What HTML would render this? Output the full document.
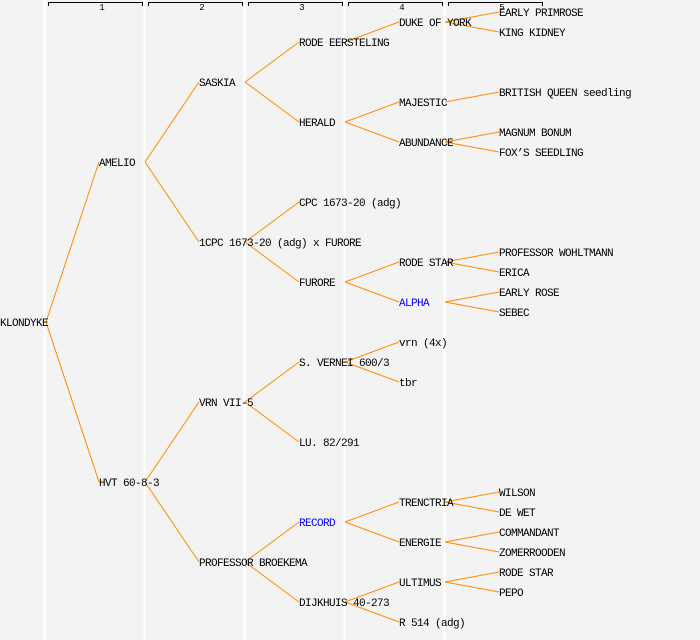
<!DOCTYPE html>
<html><head><meta charset="utf-8"><style>
html,body{margin:0;padding:0;background:#f3f3f3;}
svg{display:block;}
text{font-family:"Liberation Mono","DejaVu Sans Mono",monospace;font-size:11px;letter-spacing:-0.6px;fill:#000;}
</style></head><body>
<svg width="700" height="640" viewBox="0 0 700 640" xmlns="http://www.w3.org/2000/svg">
<rect width="700" height="640" fill="#f3f3f3"/>
<g stroke="#fff" stroke-width="2">
<line x1="44.5" y1="0" x2="44.5" y2="640"/><line x1="144.5" y1="0" x2="144.5" y2="640"/>
<line x1="244.5" y1="0" x2="244.5" y2="640"/><line x1="344.5" y1="0" x2="344.5" y2="640"/>
<line x1="444.5" y1="0" x2="444.5" y2="640"/>
</g>
<g stroke="#000" stroke-width="1" fill="none">
<path d="M48.5 6V2.5H142.5V6"/><path d="M148.5 6V2.5H242.5V6"/><path d="M248.5 6V2.5H342.5V6"/>
<path d="M348.5 6V2.5H442.5V6"/><path d="M448.5 6V2.5H542.5V6"/>
</g>
<g text-anchor="middle">
<text x="102" y="10" style="font-size:9px;letter-spacing:0">1</text><text x="202" y="10" style="font-size:9px;letter-spacing:0">2</text>
<text x="302" y="10" style="font-size:9px;letter-spacing:0">3</text><text x="402" y="10" style="font-size:9px;letter-spacing:0">4</text>
<text x="502" y="10" style="font-size:9px;letter-spacing:0">5</text>
</g>
<g stroke="#ff8c00" stroke-width="1" fill="none">
<path d="M46 322L99 162M46 322L99 482"/>
<path d="M145 162L199 82M145 162L199 242M145 482L199 402M145 482L199 562"/>
<path d="M245 82L299 42M245 82L299 122M245 242L299 202M245 242L299 282M245 402L299 362M245 402L299 442M245 562L299 522M245 562L299 602"/>
<path d="M345 42L399 22M345 122L399 102M345 122L399 142M345 282L399 262M345 282L399 302M345 362L399 342M345 362L399 382M345 522L399 502M345 522L399 542M345 602L399 582M345 602L399 622"/>
<path d="M445 22L499 12M445 22L499 32M445 102L499 92M445 142L499 132M445 142L499 152M445 262L499 252M445 262L499 272M445 302L499 292M445 302L499 312M445 502L499 492M445 502L499 512M445 542L499 532M445 542L499 552M445 582L499 572M445 582L499 592"/>
</g>
<g>
<text x="0" y="326">KLONDYKE</text>
<text x="99" y="166">AMELIO</text><text x="99" y="486">HVT 60-8-3</text>
<text x="199" y="86">SASKIA</text><text x="199" y="246">1CPC 1673-20 (adg) x FURORE</text>
<text x="199" y="406">VRN VII-5</text><text x="199" y="566">PROFESSOR BROEKEMA</text>
<text x="299" y="46">RODE EERSTELING</text><text x="299" y="126">HERALD</text>
<text x="299" y="206">CPC 1673-20 (adg)</text><text x="299" y="286">FURORE</text>
<text x="299" y="366">S. VERNEI 600/3</text><text x="299" y="446">LU. 82/291</text>
<text x="299" y="526" style="fill:#0000ff">RECORD</text><text x="299" y="606">DIJKHUIS 40-273</text>
<text x="399" y="26">DUKE OF YORK</text><text x="399" y="106">MAJESTIC</text><text x="399" y="146">ABUNDANCE</text>
<text x="399" y="266">RODE STAR</text><text x="399" y="306" style="fill:#0000ff">ALPHA</text>
<text x="399" y="346">vrn (4x)</text><text x="399" y="386">tbr</text>
<text x="399" y="506">TRENCTRIA</text><text x="399" y="546">ENERGIE</text>
<text x="399" y="586">ULTIMUS</text><text x="399" y="626">R 514 (adg)</text>
<text x="499" y="16">EARLY PRIMROSE</text><text x="499" y="36">KING KIDNEY</text>
<text x="499" y="96">BRITISH QUEEN seedling</text><text x="499" y="136">MAGNUM BONUM</text>
<text x="499" y="156">FOX’S SEEDLING</text><text x="499" y="256">PROFESSOR WOHLTMANN</text>
<text x="499" y="276">ERICA</text><text x="499" y="296">EARLY ROSE</text><text x="499" y="316">SEBEC</text>
<text x="499" y="496">WILSON</text><text x="499" y="516">DE WET</text>
<text x="499" y="536">COMMANDANT</text><text x="499" y="556">ZOMERROODEN</text>
<text x="499" y="576">RODE STAR</text><text x="499" y="596">PEPO</text>
</g>
</svg>
</body></html>
